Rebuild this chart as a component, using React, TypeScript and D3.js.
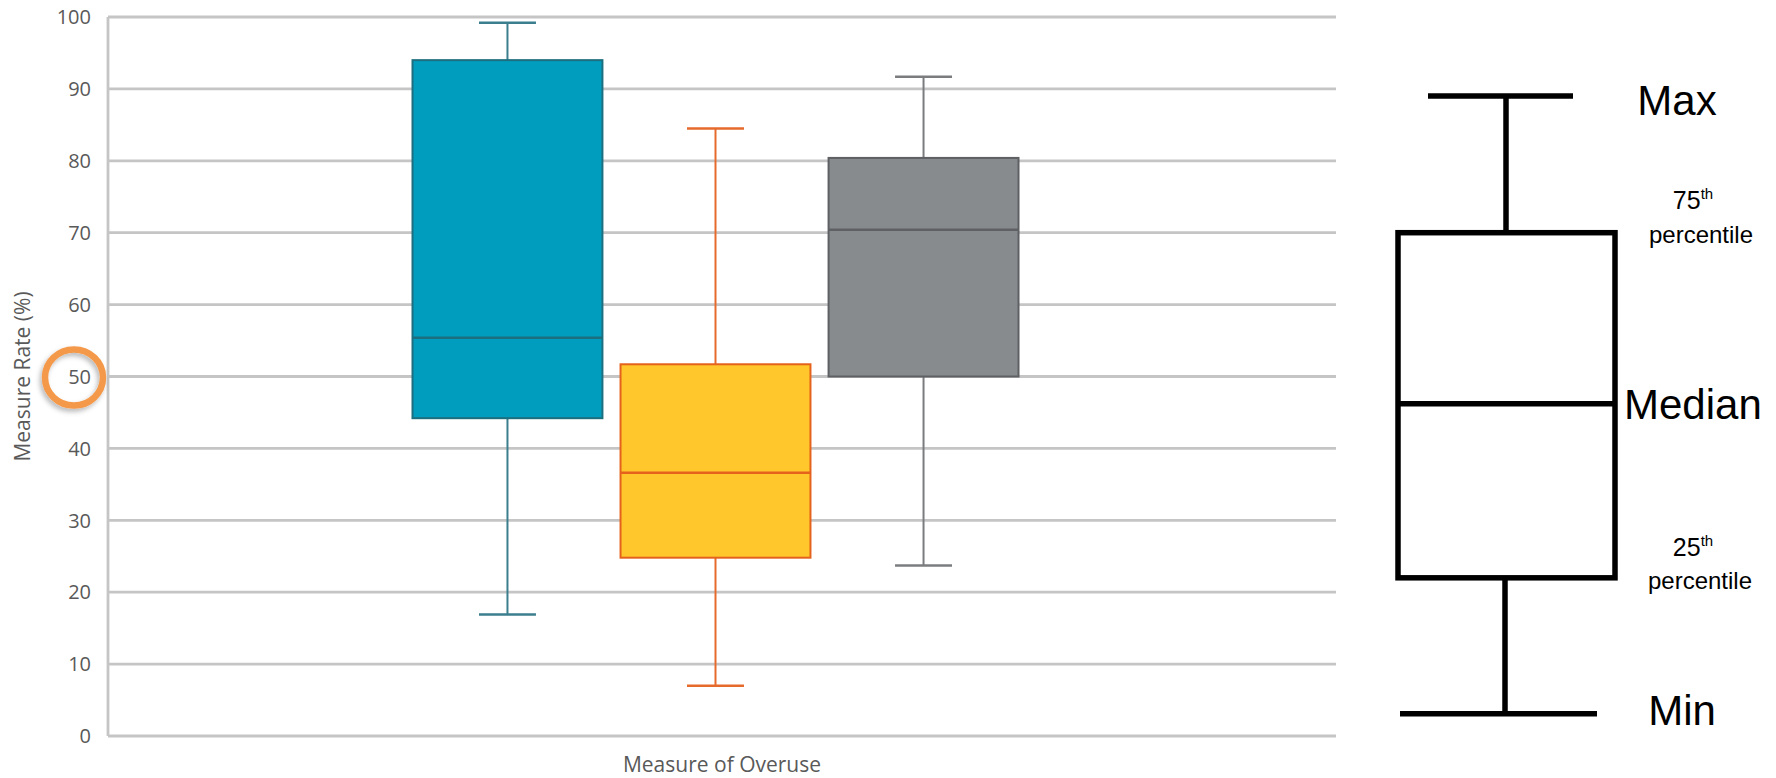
import React from 'react';
import * as d3 from 'd3';

// ---- Data ----
const categories = ['Measure of Overuse'];
const seriesIds = ['blue', 'orange', 'gray'];
const mins = [16.9, 7.0, 23.7];
const q1s = [44.2, 24.8, 50.0];
const medians = [55.4, 36.6, 70.4];
const q3s = [94.0, 51.7, 80.4];
const maxs = [99.2, 84.5, 91.7];
const yTickValues = [0, 10, 20, 30, 40, 50, 60, 70, 80, 90, 100];
const yTitle = 'Measure Rate (%)';
const highlightedTick = 50;

// schematic legend (same y scale)
const legendMin = 3.1;
const legendQ1 = 22.0;
const legendMedian = 46.2;
const legendQ3 = 70.0;
const legendMax = 89.0;

// ---- Styles ----
const fills = ['#009DBF', '#FFC72C', '#888B8D'];
const strokes = ['#1D6E7E', '#E5621C', '#5F6063'];
const whiskerColors = ['#3B7E8D', '#E56A2C', '#7A7C7E'];
const gridColor = '#C5C5C5';
const textColor = '#595959';
const W = 1776;
const H = 778;

export default function App() {
  const plotLeft = 108;
  const plotRight = 1336;
  const y = d3.scaleLinear().domain([0, 100]).range([736, 17]);
  const xCat = d3.scaleBand().domain(categories).range([plotLeft, plotRight]);
  const catCenter = (xCat(categories[0]) as number) + xCat.bandwidth() / 2;
  const xSeries = d3
    .scaleBand()
    .domain(seriesIds)
    .range([catCenter - 309.5, catCenter + 296.5])
    .paddingInner(0.087);
  const bw = xSeries.bandwidth();
  const capHalf = bw * 0.15;

  const legBoxL = 1398;
  const legBoxR = 1615;
  const legStem = 1506;
  const legFont = '"Liberation Sans", Arial, sans-serif';
  const axisFont = '"Open Sans", sans-serif';

  return (
    <svg
      width={W}
      height={H}
      style={{ position: 'absolute', left: 0, top: 0, background: '#fff' }}
    >
      <defs>
        <filter id="shadow" x="-50%" y="-50%" width="200%" height="200%">
          <feDropShadow dx="-2" dy="3" stdDeviation="2.5" floodColor="#000" floodOpacity="0.28" />
        </filter>
      </defs>
      <rect x={0} y={0} width={W} height={H} fill="#fff" />

      {/* gridlines */}
      {yTickValues.map((t) => (
        <line
          key={'g' + t}
          x1={plotLeft}
          x2={plotRight}
          y1={y(t)}
          y2={y(t)}
          stroke={gridColor}
          strokeWidth={2.8}
        />
      ))}
      <line x1={plotLeft} x2={plotLeft} y1={y(100)} y2={y(0)} stroke={gridColor} strokeWidth={2.8} />

      {/* tick labels */}
      {yTickValues.map((t) => (
        <text
          key={'t' + t}
          x={91}
          y={y(t)}
          dy="0.36em"
          textAnchor="end"
          fontFamily={axisFont}
          fontSize={20}
          fill={textColor}
        >
          {t}
        </text>
      ))}

      {/* y title */}
      <text
        transform={`translate(23, ${y(50)}) rotate(-90)`}
        textAnchor="middle"
        dy="0.35em"
        fontFamily={axisFont}
        fontSize={21}
        fill={textColor}
      >
        {yTitle}
      </text>

      {/* x label */}
      <text
        x={catCenter}
        y={772}
        textAnchor="middle"
        fontFamily={axisFont}
        fontSize={21}
        fill={textColor}
      >
        {categories[0]}
      </text>

      {/* highlight circle */}
      <ellipse
        cx={74}
        cy={y(highlightedTick) + 1}
        rx={29}
        ry={28}
        fill="none"
        stroke="#F4994A"
        strokeWidth={6.5}
        filter="url(#shadow)"
      />

      {/* boxes */}
      {seriesIds.map((s, i) => {
        const x0 = xSeries(s) as number;
        const cx = x0 + bw / 2;
        return (
          <g key={s}>
            <line x1={cx} x2={cx} y1={y(q3s[i])} y2={y(maxs[i])} stroke={whiskerColors[i]} strokeWidth={2} />
            <line x1={cx} x2={cx} y1={y(q1s[i])} y2={y(mins[i])} stroke={whiskerColors[i]} strokeWidth={2} />
            <line x1={cx - capHalf} x2={cx + capHalf} y1={y(maxs[i])} y2={y(maxs[i])} stroke={whiskerColors[i]} strokeWidth={2.5} />
            <line x1={cx - capHalf} x2={cx + capHalf} y1={y(mins[i])} y2={y(mins[i])} stroke={whiskerColors[i]} strokeWidth={2.5} />
            <rect
              x={x0}
              y={y(q3s[i])}
              width={bw}
              height={y(q1s[i]) - y(q3s[i])}
              fill={fills[i]}
              stroke={strokes[i]}
              strokeWidth={2}
            />
            <line x1={x0} x2={x0 + bw} y1={y(medians[i])} y2={y(medians[i])} stroke={strokes[i]} strokeWidth={2.5} />
          </g>
        );
      })}

      {/* schematic legend */}
      <g stroke="#000" strokeWidth={5.5} fill="none">
        <line x1={1428} x2={1573} y1={y(legendMax)} y2={y(legendMax)} />
        <line x1={legStem} x2={legStem} y1={y(legendMax)} y2={y(legendQ3)} />
        <rect x={legBoxL} y={y(legendQ3)} width={legBoxR - legBoxL} height={y(legendQ1) - y(legendQ3)} />
        <line x1={legBoxL} x2={legBoxR} y1={y(legendMedian)} y2={y(legendMedian)} />
        <line x1={legStem - 1} x2={legStem - 1} y1={y(legendQ1)} y2={y(legendMin)} />
        <line x1={1400} x2={1597} y1={y(legendMin)} y2={y(legendMin)} />
      </g>
      <g fontFamily={legFont} fill="#000">
        <text x={1677} y={y(legendMax) + 4} dy="0.35em" textAnchor="middle" fontSize={42}>Max</text>
        <text x={1693} y={y(legendQ3) - 24} textAnchor="middle" fontSize={25}>
          75<tspan dy={-10} fontSize={15}>th</tspan>
        </text>
        <text x={1701} y={y(legendQ3) + 10.5} textAnchor="middle" fontSize={24}>percentile</text>
        <text x={1624} y={y(legendMedian)} dy="0.35em" textAnchor="start" fontSize={42}>Median</text>
        <text x={1693} y={y(legendQ1) - 22} textAnchor="middle" fontSize={25}>
          25<tspan dy={-10} fontSize={15}>th</tspan>
        </text>
        <text x={1700} y={y(legendQ1) + 11} textAnchor="middle" fontSize={24}>percentile</text>
        <text x={1682} y={y(legendMin) - 3} dy="0.35em" textAnchor="middle" fontSize={42}>Min</text>
      </g>
    </svg>
  );
}
